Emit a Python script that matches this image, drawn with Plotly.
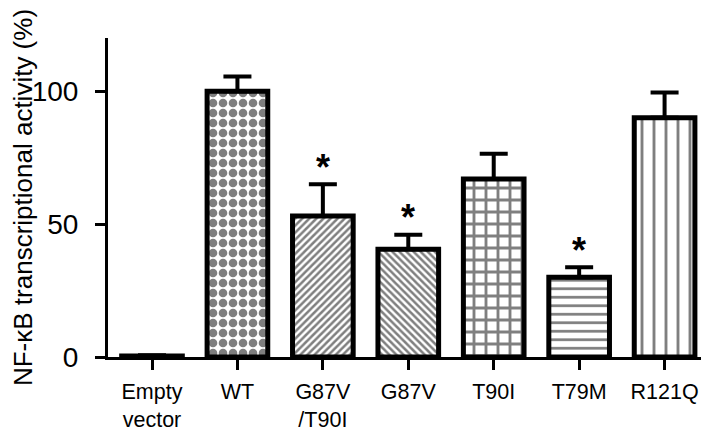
import plotly.graph_objects as go

categories = ["Empty<br>vector", "WT", "G87V<br>/T90I", "G87V", "T90I", "T79M", "R121Q"]
activity = [0.4, 100, 53, 40.5, 67, 30, 90]
error_up = [0.3, 5.5, 12, 5.5, 9.5, 3.8, 9.5]
significant = [False, False, True, True, False, True, False]
y_ticks = [0, 50, 100]
y_title = "NF-κB transcriptional activity (%)"

patterns = ["", ".", "/", "\\", "+", "-", "|"]
pat_size = [8, 10, 5, 5, 12, 8.5, 12]
pat_solid = [0.3, 0.58, 0.5, 0.5, 0.42, 0.32, 0.24]

FONT = "Arial, Liberation Sans, Helvetica, sans-serif"

fig = go.Figure()
fig.add_trace(go.Bar(
    x=list(range(len(categories))),
    y=activity,
    width=0.71,
    marker=dict(
        color="white",
        line=dict(color="black", width=5),
        pattern=dict(shape=patterns, size=pat_size, solidity=pat_solid,
                     fgcolor="black", fillmode="overlay"),
    ),
    error_y=dict(type="data", symmetric=False, array=error_up,
                 arrayminus=[0] * len(error_up),
                 color="black", thickness=4, width=14),
    showlegend=False,
))

for i, (v, e, s) in enumerate(zip(activity, error_up, significant)):
    if s:
        fig.add_annotation(x=i, y=v + e, text="<b>*</b>", showarrow=False,
                           yanchor="middle", yshift=17,
                           font=dict(family=FONT, size=36, color="black"))

# page body has an 8px margin, so the figure is sized to fill the 709x432 view
fig.update_layout(
    width=701, height=424,
    margin=dict(l=100, r=0, t=30, b=75, autoexpand=False),
    plot_bgcolor="white", paper_bgcolor="white",
    font=dict(family=FONT, color="black"),
    xaxis=dict(
        range=[-0.515, 6.52],
        tickvals=list(range(len(categories))),
        ticktext=categories,
        ticks="outside", ticklen=10, tickwidth=3, tickcolor="black",
        showline=True, linewidth=3, linecolor="black",
        showgrid=False, zeroline=False, automargin=False,
        tickfont=dict(size=21.5), ticklabelstandoff=3,
    ),
    yaxis=dict(
        range=[0, 120],
        tickvals=y_ticks,
        ticks="outside", ticklen=10, tickwidth=3, tickcolor="black",
        showline=True, linewidth=3, linecolor="black",
        showgrid=False, zeroline=False, automargin=False,
        tickfont=dict(size=28), ticklabelstandoff=11,
        title=dict(text=y_title, font=dict(size=26), standoff=5),
    ),
)

fig.write_html("out.html")
